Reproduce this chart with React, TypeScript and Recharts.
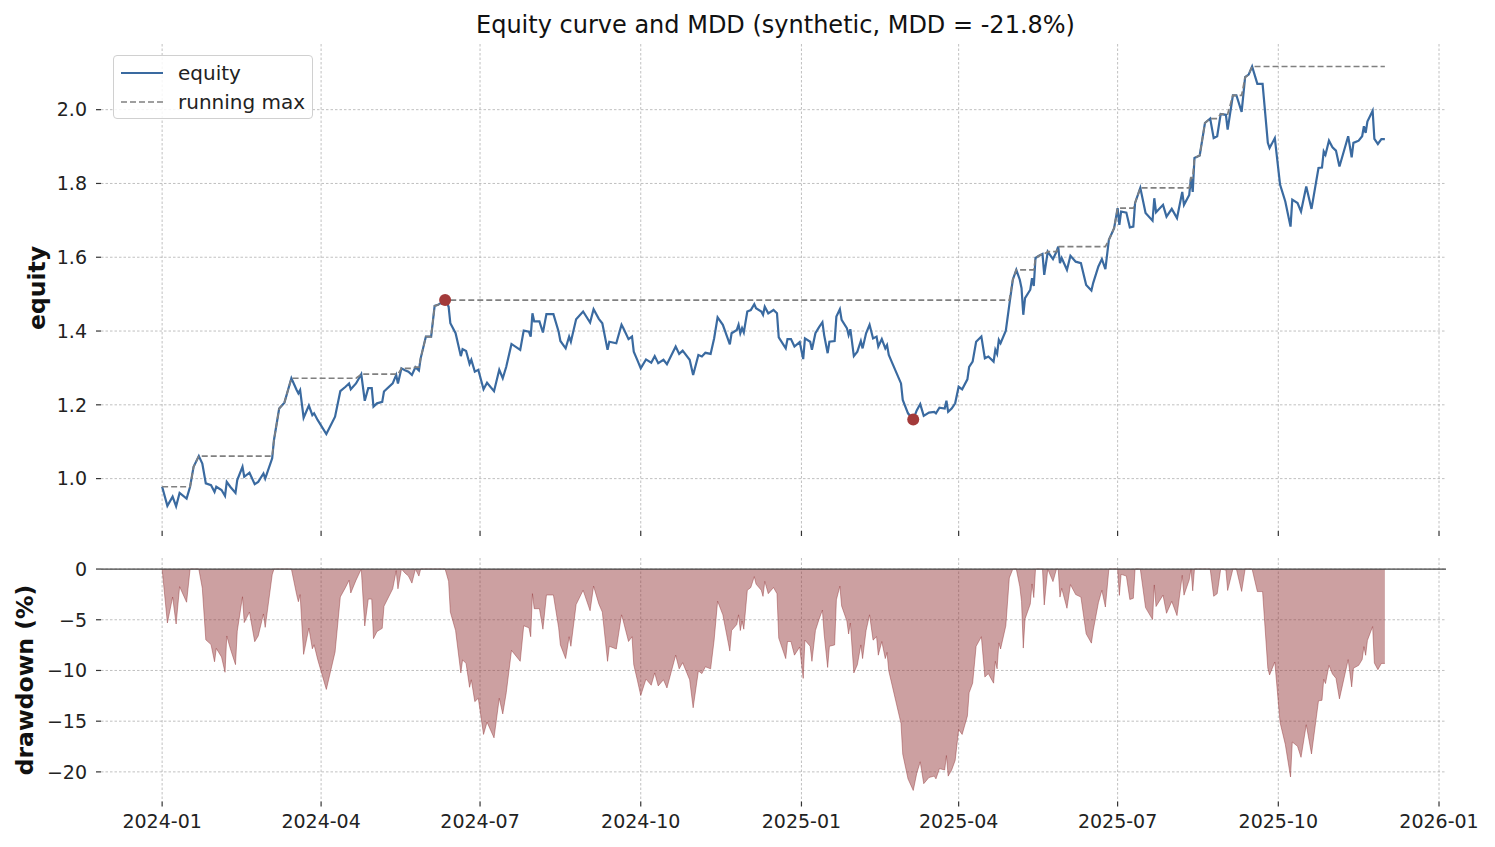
import React from "react";
import {
	Area,
	AreaChart,
	CartesianGrid,
	Line,
	LineChart,
	ReferenceDot,
	ReferenceLine,
	XAxis,
	YAxis,
} from "recharts";

// Daily equity samples, 2024
const EQUITY_2024: [string, number][] = [
	["2024-01-01", 0.978], ["2024-01-04", 0.926], ["2024-01-07", 0.951], ["2024-01-09", 0.925],
	["2024-01-11", 0.961], ["2024-01-15", 0.946], ["2024-01-17", 0.978], ["2024-01-19", 1.032],
	["2024-01-22", 1.061], ["2024-01-24", 1.041], ["2024-01-26", 0.987], ["2024-01-29", 0.982],
	["2024-01-31", 0.964], ["2024-02-01", 0.978], ["2024-02-04", 0.969], ["2024-02-06", 0.953],
	["2024-02-07", 0.991], ["2024-02-09", 0.978], ["2024-02-12", 0.961], ["2024-02-13", 0.996],
	["2024-02-16", 1.032], ["2024-02-17", 1.005], ["2024-02-20", 1.016], ["2024-02-23", 0.985],
	["2024-02-25", 0.991], ["2024-02-28", 1.014], ["2024-02-29", 1.0], ["2024-03-04", 1.055],
	["2024-03-05", 1.104], ["2024-03-08", 1.19], ["2024-03-11", 1.206], ["2024-03-15", 1.272],
	["2024-03-18", 1.24], ["2024-03-19", 1.231], ["2024-03-20", 1.24], ["2024-03-22", 1.165],
	["2024-03-25", 1.198], ["2024-03-27", 1.172], ["2024-03-28", 1.177], ["2024-03-30", 1.159],
	["2024-04-04", 1.121], ["2024-04-09", 1.168], ["2024-04-12", 1.237], ["2024-04-15", 1.249],
	["2024-04-17", 1.258], ["2024-04-18", 1.242], ["2024-04-21", 1.258], ["2024-04-24", 1.283],
	["2024-04-26", 1.211], ["2024-04-28", 1.245], ["2024-04-30", 1.245], ["2024-05-01", 1.195],
	["2024-05-03", 1.204], ["2024-05-06", 1.208], ["2024-05-07", 1.236], ["2024-05-12", 1.258],
	["2024-05-14", 1.281], ["2024-05-15", 1.258], ["2024-05-17", 1.299], ["2024-05-19", 1.294],
	["2024-05-21", 1.29], ["2024-05-23", 1.281], ["2024-05-25", 1.302], ["2024-05-27", 1.293],
	["2024-05-28", 1.326], ["2024-05-31", 1.385], ["2024-06-03", 1.385], ["2024-06-05", 1.468],
	["2024-06-07", 1.471], ["2024-06-11", 1.484], ["2024-06-13", 1.466], ["2024-06-14", 1.421],
	["2024-06-17", 1.394], ["2024-06-20", 1.332], ["2024-06-21", 1.351], ["2024-06-23", 1.346],
	["2024-06-25", 1.311], ["2024-06-26", 1.322], ["2024-06-28", 1.29], ["2024-06-30", 1.295],
	["2024-07-03", 1.242], ["2024-07-05", 1.26], ["2024-07-09", 1.237], ["2024-07-12", 1.295],
	["2024-07-14", 1.272], ["2024-07-16", 1.303], ["2024-07-19", 1.365], ["2024-07-24", 1.349],
	["2024-07-26", 1.401], ["2024-07-29", 1.398], ["2024-07-30", 1.385], ["2024-07-31", 1.448],
	["2024-08-01", 1.426], ["2024-08-04", 1.426], ["2024-08-06", 1.396], ["2024-08-08", 1.446],
	["2024-08-12", 1.446], ["2024-08-15", 1.398], ["2024-08-16", 1.373], ["2024-08-19", 1.353],
	["2024-08-21", 1.385], ["2024-08-22", 1.371], ["2024-08-25", 1.432], ["2024-08-29", 1.453],
	["2024-09-02", 1.423], ["2024-09-04", 1.459], ["2024-09-07", 1.433], ["2024-09-09", 1.421],
	["2024-09-12", 1.349], ["2024-09-13", 1.371], ["2024-09-17", 1.367], ["2024-09-20", 1.417],
	["2024-09-21", 1.408], ["2024-09-24", 1.378], ["2024-09-26", 1.385], ["2024-09-27", 1.344],
	["2024-09-29", 1.322], ["2024-10-01", 1.299], ["2024-10-04", 1.323], ["2024-10-07", 1.314],
	["2024-10-09", 1.332], ["2024-10-11", 1.313], ["2024-10-14", 1.322], ["2024-10-16", 1.31],
	["2024-10-21", 1.358], ["2024-10-23", 1.338], ["2024-10-25", 1.347], ["2024-10-29", 1.322],
	["2024-10-31", 1.281], ["2024-11-03", 1.335], ["2024-11-05", 1.331], ["2024-11-07", 1.341],
	["2024-11-10", 1.338], ["2024-11-12", 1.38], ["2024-11-14", 1.437], ["2024-11-17", 1.417],
	["2024-11-21", 1.364], ["2024-11-22", 1.394], ["2024-11-25", 1.403], ["2024-11-26", 1.417],
	["2024-11-27", 1.394], ["2024-11-28", 1.408], ["2024-11-29", 1.396], ["2024-12-01", 1.453],
	["2024-12-03", 1.457], ["2024-12-05", 1.473], ["2024-12-06", 1.462], ["2024-12-09", 1.453],
	["2024-12-10", 1.444], ["2024-12-11", 1.466], ["2024-12-13", 1.448], ["2024-12-16", 1.457],
	["2024-12-18", 1.448], ["2024-12-19", 1.383], ["2024-12-23", 1.353], ["2024-12-24", 1.378],
	["2024-12-26", 1.378], ["2024-12-28", 1.358], ["2024-12-31", 1.37],
];

// Daily equity samples, 2025
const EQUITY_2025: [string, number][] = [
	["2025-01-02", 1.324], ["2025-01-03", 1.38], ["2025-01-06", 1.371], ["2025-01-07", 1.349],
	["2025-01-09", 1.394], ["2025-01-11", 1.41], ["2025-01-13", 1.424], ["2025-01-14", 1.389],
	["2025-01-16", 1.34], ["2025-01-17", 1.371], ["2025-01-20", 1.373], ["2025-01-21", 1.439],
	["2025-01-23", 1.459], ["2025-01-24", 1.43], ["2025-01-27", 1.408], ["2025-01-28", 1.389],
	["2025-01-29", 1.405], ["2025-01-31", 1.332], ["2025-02-02", 1.344], ["2025-02-04", 1.373],
	["2025-02-05", 1.353], ["2025-02-07", 1.394], ["2025-02-09", 1.417], ["2025-02-11", 1.38],
	["2025-02-13", 1.385], ["2025-02-14", 1.358], ["2025-02-16", 1.378], ["2025-02-18", 1.353],
	["2025-02-19", 1.362], ["2025-02-20", 1.335], ["2025-02-22", 1.313], ["2025-02-27", 1.258],
	["2025-02-28", 1.213], ["2025-03-03", 1.177], ["2025-03-06", 1.16], ["2025-03-08", 1.185],
	["2025-03-10", 1.202], ["2025-03-12", 1.17], ["2025-03-15", 1.179], ["2025-03-18", 1.181],
	["2025-03-19", 1.177], ["2025-03-21", 1.192], ["2025-03-24", 1.19], ["2025-03-25", 1.211],
	["2025-03-26", 1.181], ["2025-03-28", 1.19], ["2025-03-30", 1.204], ["2025-04-01", 1.249],
	["2025-04-03", 1.242], ["2025-04-06", 1.269], ["2025-04-07", 1.303], ["2025-04-09", 1.317],
	["2025-04-11", 1.371], ["2025-04-14", 1.385], ["2025-04-16", 1.326], ["2025-04-18", 1.331],
	["2025-04-21", 1.317], ["2025-04-22", 1.349], ["2025-04-23", 1.338], ["2025-04-24", 1.376],
	["2025-04-25", 1.367], ["2025-04-28", 1.401], ["2025-04-30", 1.471], ["2025-05-02", 1.539],
	["2025-05-04", 1.566], ["2025-05-06", 1.539], ["2025-05-07", 1.516], ["2025-05-08", 1.444],
	["2025-05-09", 1.489], ["2025-05-12", 1.512], ["2025-05-13", 1.543], ["2025-05-14", 1.522],
	["2025-05-15", 1.598], ["2025-05-17", 1.604], ["2025-05-19", 1.609], ["2025-05-20", 1.552],
	["2025-05-22", 1.615], ["2025-05-25", 1.595], ["2025-05-27", 1.615], ["2025-05-28", 1.629],
	["2025-05-29", 1.584], ["2025-05-30", 1.598], ["2025-06-02", 1.566], ["2025-06-04", 1.604],
	["2025-06-07", 1.588], ["2025-06-10", 1.584], ["2025-06-13", 1.525], ["2025-06-16", 1.51],
	["2025-06-17", 1.53], ["2025-06-20", 1.575], ["2025-06-22", 1.595], ["2025-06-24", 1.568],
	["2025-06-26", 1.647], ["2025-06-29", 1.679], ["2025-07-01", 1.733], ["2025-07-02", 1.688],
	["2025-07-03", 1.724], ["2025-07-06", 1.721], ["2025-07-08", 1.681], ["2025-07-10", 1.683],
	["2025-07-11", 1.747], ["2025-07-14", 1.788], ["2025-07-17", 1.72], ["2025-07-21", 1.699],
	["2025-07-22", 1.76], ["2025-07-23", 1.722], ["2025-07-27", 1.742], ["2025-07-29", 1.71],
	["2025-08-01", 1.731], ["2025-08-04", 1.706], ["2025-08-07", 1.777], ["2025-08-08", 1.742],
	["2025-08-11", 1.769], ["2025-08-12", 1.816], ["2025-08-13", 1.777], ["2025-08-14", 1.869],
	["2025-08-17", 1.876], ["2025-08-20", 1.964], ["2025-08-23", 1.976], ["2025-08-25", 1.923],
	["2025-08-27", 1.928], ["2025-08-29", 1.988], ["2025-09-01", 1.986], ["2025-09-02", 1.946],
	["2025-09-05", 2.039], ["2025-09-07", 2.039], ["2025-09-10", 1.994], ["2025-09-12", 2.088],
	["2025-09-14", 2.095], ["2025-09-16", 2.117], ["2025-09-19", 2.07], ["2025-09-22", 2.07],
	["2025-09-25", 1.91], ["2025-09-26", 1.896], ["2025-09-29", 1.923], ["2025-10-02", 1.797],
	["2025-10-05", 1.751], ["2025-10-08", 1.683], ["2025-10-09", 1.756], ["2025-10-12", 1.747],
	["2025-10-14", 1.724], ["2025-10-17", 1.792], ["2025-10-20", 1.731], ["2025-10-24", 1.842],
	["2025-10-26", 1.843], ["2025-10-27", 1.887], ["2025-10-28", 1.878], ["2025-10-30", 1.916],
	["2025-11-01", 1.898], ["2025-11-03", 1.889], ["2025-11-05", 1.846], ["2025-11-10", 1.928],
	["2025-11-12", 1.871], ["2025-11-13", 1.91], ["2025-11-16", 1.916], ["2025-11-18", 1.928],
	["2025-11-19", 1.955], ["2025-11-20", 1.937], ["2025-11-21", 1.968], ["2025-11-24", 1.997],
	["2025-11-25", 1.921], ["2025-11-27", 1.907], ["2025-11-29", 1.92], ["2025-12-01", 1.92],
];

const X_TICK_DATES = [
	"2024-01-01", "2024-04-01", "2024-07-01", "2024-10-01", "2025-01-01",
	"2025-04-01", "2025-07-01", "2025-10-01", "2026-01-01",
];
const EQUITY_TICKS = [1.0, 1.2, 1.4, 1.6, 1.8, 2.0];
const DD_TICKS = [-20, -15, -10, -5, 0];

const DAY = 86400000;
const T0 = Date.parse("2024-01-01");
const X_DOMAIN = [T0 - 35 * DAY, T0 + 735 * DAY];
const X_TICKS = X_TICK_DATES.map((d) => Date.parse(d));

// Equity, running max and drawdown per sample
let peak = -Infinity;
const series = [...EQUITY_2024, ...EQUITY_2025].map(([date, equity]) => {
	peak = Math.max(peak, equity);
	return { t: Date.parse(date), equity, runMax: peak, dd: (equity / peak - 1) * 100 };
});

// Max drawdown trough and the peak that precedes it
let troughIdx = 0;
series.forEach((p, i) => {
	if (p.dd < series[troughIdx].dd) troughIdx = i;
});
let peakIdx = 0;
for (let i = 0; i <= troughIdx; i++) {
	if (series[i].equity > series[peakIdx].equity) peakIdx = i;
}
const mdd = series[troughIdx].dd;

const FONT = "'DejaVu Sans', sans-serif";
const TICK_STYLE = { fontSize: 19, fill: "#222", fontFamily: FONT };
const GRID_COLOR = "#b0b0b0";
const EQUITY_COLOR = "#3a6aa0";
const RUNMAX_COLOR = "#808080";
const RUNMAX_DASH = "6 3";
const DD_COLOR = "#933537";
const MARKER_COLOR = "#a33a3a";
const TICK_LINE = { stroke: "#333", strokeWidth: 1.2 };

const fmtMonth = (t: number) => {
	const d = new Date(t);
	return `${d.getUTCFullYear()}-${String(d.getUTCMonth() + 1).padStart(2, "0")}`;
};
const fmtMinus = (v: number) => (v < 0 ? `\u2212${Math.abs(v)}` : `${v}`);

function LegendBox() {
	return (
		<div style={styles.legend}>
			<div style={styles.legendRow}>
				<svg width={44} height={10}>
					<line x1={0} y1={5} x2={42} y2={5} stroke={EQUITY_COLOR} strokeWidth={2.2} />
				</svg>
				<span style={styles.legendText}>equity</span>
			</div>
			<div style={styles.legendRow}>
				<svg width={44} height={10}>
					<line x1={0} y1={5} x2={42} y2={5} stroke={RUNMAX_COLOR} strokeWidth={1.7} strokeDasharray={RUNMAX_DASH} />
				</svg>
				<span style={styles.legendText}>running max</span>
			</div>
		</div>
	);
}

export default function App() {
	return (
		<div style={styles.page}>
			<div style={styles.title}>
				Equity curve and MDD (synthetic, MDD = {mdd.toFixed(1)}%)
			</div>

			<div style={{ position: "absolute", left: 0, top: 0 }}>
				<LineChart width={1495} height={560} data={series} margin={{ top: 44, right: 49, bottom: 0, left: 0 }}>
					<CartesianGrid
						stroke={GRID_COLOR}
						strokeWidth={0.8}
						strokeDasharray="2.5 2"
						horizontalValues={EQUITY_TICKS}
						verticalValues={X_TICKS}
					/>
					<XAxis
						dataKey="t"
						type="number"
						scale="time"
						domain={X_DOMAIN}
						ticks={X_TICKS}
						tickFormatter={() => ""}
						axisLine={false}
						tickLine={TICK_LINE}
						tickSize={5}
						height={29}
					/>
					<YAxis
						domain={[0.858, 2.178]}
						ticks={EQUITY_TICKS}
						tickFormatter={(v: number) => v.toFixed(1)}
						axisLine={false}
						tickLine={TICK_LINE}
						tickSize={5}
						tickMargin={9}
						tick={TICK_STYLE}
						width={101}
					/>
					<Line
						dataKey="equity"
						stroke={EQUITY_COLOR}
						strokeWidth={2.2}
						dot={false}
						isAnimationActive={false}
					/>
					<Line
						dataKey="runMax"
						stroke={RUNMAX_COLOR}
						strokeWidth={1.7}
						strokeDasharray={RUNMAX_DASH}
						dot={false}
						isAnimationActive={false}
					/>
					<ReferenceDot
						x={series[peakIdx].t}
						y={series[peakIdx].equity}
						r={6}
						fill={MARKER_COLOR}
						stroke="none"
					/>
					<ReferenceDot
						x={series[troughIdx].t}
						y={series[troughIdx].equity}
						r={6}
						fill={MARKER_COLOR}
						stroke="none"
					/>
				</LineChart>
			</div>

			<div style={{ position: "absolute", left: 113, top: 55 }}>
				<LegendBox />
			</div>

			<div style={{ position: "absolute", left: 0, top: 540 }}>
				<AreaChart width={1495} height={307} data={series} margin={{ top: 18, right: 49, bottom: 0, left: 0 }}>
					<CartesianGrid
						stroke={GRID_COLOR}
						strokeWidth={0.8}
						strokeDasharray="2.5 2"
						horizontalValues={DD_TICKS}
						verticalValues={X_TICKS}
					/>
					<XAxis
						dataKey="t"
						type="number"
						scale="time"
						domain={X_DOMAIN}
						ticks={X_TICKS}
						tickFormatter={fmtMonth}
						axisLine={false}
						tickLine={TICK_LINE}
						tickSize={5}
						tickMargin={8}
						tick={TICK_STYLE}
						height={45.5}
					/>
					<YAxis
						domain={[-22.92, 1.09]}
						ticks={DD_TICKS}
						tickFormatter={fmtMinus}
						axisLine={false}
						tickLine={TICK_LINE}
						tickSize={5}
						tickMargin={9}
						tick={TICK_STYLE}
						width={101}
					/>
					<Area
						dataKey="dd"
						type="linear"
						baseValue={0}
						fill={DD_COLOR}
						fillOpacity={0.47}
						stroke={DD_COLOR}
						strokeOpacity={0.45}
						strokeWidth={1}
						isAnimationActive={false}
					/>
					<ReferenceLine y={0} stroke="#444" strokeWidth={1.2} />
				</AreaChart>
			</div>

			<div style={{ ...styles.axisLabel, left: 37, top: 288 }}>equity</div>
			<div style={{ ...styles.axisLabel, left: 25, top: 680 }}>drawdown (%)</div>
		</div>
	);
}

const styles = {
	page: {
		position: "absolute",
		left: 0,
		top: 0,
		width: 1495,
		height: 847,
		background: "#fff",
		fontFamily: FONT,
		overflow: "hidden",
	},
	title: {
		position: "absolute",
		left: 103,
		width: 1345,
		top: 11,
		textAlign: "center",
		fontSize: 24,
		color: "#111",
		whiteSpace: "nowrap",
	},
	axisLabel: {
		position: "absolute",
		transform: "translate(-50%, -50%) rotate(-90deg)",
		fontSize: 23.5,
		fontWeight: 700,
		color: "#111",
		whiteSpace: "nowrap",
	},
	legend: {
		width: 200,
		height: 64,
		boxSizing: "border-box",
		border: "1px solid #d0d0d0",
		borderRadius: 4,
		background: "rgba(255,255,255,0.85)",
		padding: "2px 0 0 7px",
		fontFamily: FONT,
	},
	legendRow: {
		display: "flex",
		alignItems: "center",
		height: 29,
	},
	legendText: {
		fontSize: 20,
		color: "#222",
		marginLeft: 13,
	},
} satisfies Record<string, React.CSSProperties>;
